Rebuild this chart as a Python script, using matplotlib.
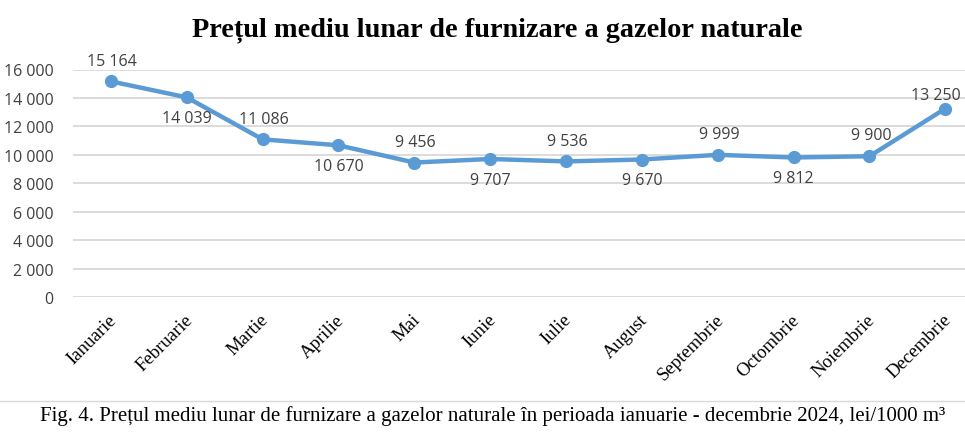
import matplotlib
matplotlib.use("Agg")
import matplotlib.pyplot as plt
from matplotlib.lines import Line2D
from matplotlib.transforms import ScaledTranslation

months = ["Ianuarie", "Februarie", "Martie", "Aprilie", "Mai", "Iunie", "Iulie",
          "August", "Septembrie", "Octombrie", "Noiembrie", "Decembrie"]
prices = [15164, 14039, 11086, 10670, 9456, 9707, 9536, 9670, 9999, 9812, 9900, 13250]
label_pos = ["above", "below", "above", "below", "above", "below", "above",
             "below", "above", "below", "above", "above"]
yticks = [0, 2000, 4000, 6000, 8000, 10000, 12000, 14000, 16000]

def fmt(v):
    return f"{v:,}".replace(",", " ")

W, H = 965, 435
fig = plt.figure(figsize=(W / 100, H / 100), dpi=100)
fig.patch.set_facecolor("white")

ax = fig.add_axes([73 / W, 1 - 298 / H, (W - 73) / W, (298 - 70.5) / H])
ax.set_facecolor("white")

x = list(range(len(months)))
ax.plot(x, prices, color="#5B9BD5", lw=3.2, marker="o", ms=8.5,
        solid_capstyle="round", zorder=3, clip_on=False)

ax.set_ylim(0, 16000)
ax.set_xlim(-0.5, 11.26)
ax.set_yticks(yticks)
ax.set_yticklabels([fmt(v) for v in yticks], fontfamily="Open Sans",
                   fontsize=11.5, color="#404040")
ax.yaxis.grid(True, color="#D9D9D9", lw=1.3)
ax.set_axisbelow(True)
ax.tick_params(axis="y", length=0, pad=14)
ax.tick_params(axis="x", length=0, pad=10)
ax.set_xticks(x)
ax.set_xticklabels(months, rotation=45, ha="right", rotation_mode="anchor",
                   fontfamily="Liberation Serif", fontsize=13.5, color="black")
shift = ScaledTranslation(-3 / 100, 0, fig.dpi_scale_trans)
for lbl in ax.get_xticklabels():
    lbl.set_transform(lbl.get_transform() + shift)
for s in ax.spines.values():
    s.set_visible(False)

for i, (v, p) in enumerate(zip(prices, label_pos)):
    if i == len(prices) - 1:
        off = (-6.5, 9.5)
    elif p == "above":
        off = (1, 15)
    else:
        off = (0, -15)
    ax.annotate(fmt(v), (i, v), xytext=off, textcoords="offset points",
                ha="center", va="center", fontfamily="Open Sans",
                fontsize=11.5, color="#404040", annotation_clip=False)

fig.text(0.515, 1 - 30 / H, "Prețul mediu lunar de furnizare a gazelor naturale",
         ha="center", va="center", fontfamily="Liberation Serif",
         fontweight="bold", fontsize=20.3, color="black")

fig.add_artist(Line2D([0, 1], [1 - 402 / H, 1 - 402 / H], color="#D9D9D9",
                      lw=1.0, transform=fig.transFigure))

fig.text(0.511, 1 - 416 / H,
         "Fig. 4. Prețul mediu lunar de furnizare a gazelor naturale în perioada ianuarie - decembrie 2024, lei/1000 m³",
         ha="center", va="center", fontfamily="Liberation Serif",
         fontsize=15, color="black")

fig.savefig("out.png", dpi=100, facecolor="white")
